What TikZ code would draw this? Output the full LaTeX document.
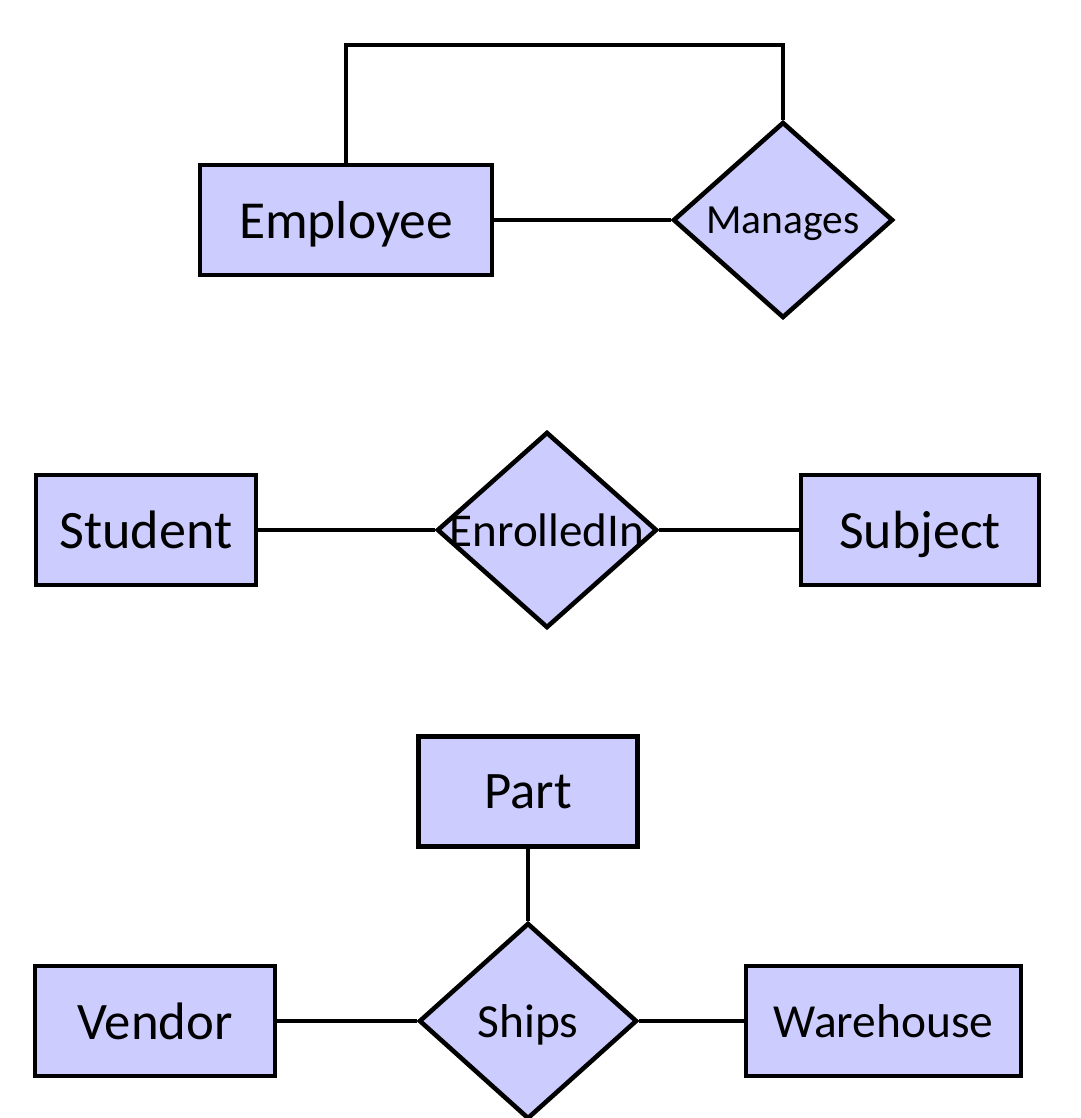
\documentclass[tikz,border=0pt]{standalone}
\usepackage{fontspec}
\setmainfont{Carlito}
\usepackage{tikz}
\usetikzlibrary{shapes.geometric, positioning, calc}
\definecolor{erFill}{HTML}{CCCCFF}
\tikzset{
    entityBox/.style={rectangle, draw=black, fill=erFill, line width=1.4pt, inner sep=0pt, minimum height=1.10cm, text depth=0pt},
    relDiamond/.style={diamond, draw=black, fill=erFill, line width=1.3pt, inner sep=0pt, minimum width=2.20cm, minimum height=1.96cm},
    relText/.style={text depth=0pt, inner sep=0pt},
    erLine/.style={line width=1.1pt}
}

\begin{document}
\begin{tikzpicture}

        % Page frame
        \useasboundingbox (0, 0) rectangle (10.8, 11.18);

        % --- Employee / Manages (recursive) ---
        \node[entityBox, minimum width=2.92cm, font=\fontsize{15.2}{18}\selectfont] (emp) at (3.46, 8.98) {Employee};
        \node[relDiamond, label={[relText, font=\fontsize{11.8}{14}\selectfont]center:Manages}] (man) at (7.83, 8.98) {};
        \coordinate (loopY) at (0, 10.73);

        \draw[erLine] (emp.east) -- (man.west);
        \draw[erLine] (emp.north) |- (man.north |- loopY) -- (man.north);

        % --- Student / EnrolledIn / Subject ---
        \node[entityBox, minimum width=2.20cm, font=\fontsize{15.4}{18}\selectfont] (stu) at (1.46, 5.88) {Student};
        \node[relDiamond, label={[relText, font=\fontsize{13.4}{16}\selectfont]center:EnrolledIn}] (enr) at (5.47, 5.88) {};
        \node[entityBox, minimum width=2.38cm, font=\fontsize{15.3}{18}\selectfont] (sub) at (9.20, 5.88) {Subject};

        \draw[erLine] (stu.east) -- (enr.west);
        \draw[erLine] (enr.east) -- (sub.west);

        % --- Vendor / Ships / Warehouse / Part (ternary) ---
        \node[entityBox, minimum width=2.19cm, font=\fontsize{15.0}{18}\selectfont] (prt) at (5.28, 3.265) {Part};
        \node[relDiamond, minimum width=2.18cm, label={[relText, font=\fontsize{13.5}{16}\selectfont]center:Ships}] (shp) at (5.28, 0.97) {};
        \node[entityBox, minimum width=2.40cm, font=\fontsize{15.0}{18}\selectfont] (ven) at (1.55, 0.97) {Vendor};
        \node[entityBox, minimum width=2.75cm, font=\fontsize{13.5}{16}\selectfont] (war) at (8.835, 0.97) {Warehouse};

        \draw[erLine] (prt.south) -- (shp.north);
        \draw[erLine] (ven.east) -- (shp.west);
        \draw[erLine] (shp.east) -- (war.west);

\end{tikzpicture}
\end{document}
